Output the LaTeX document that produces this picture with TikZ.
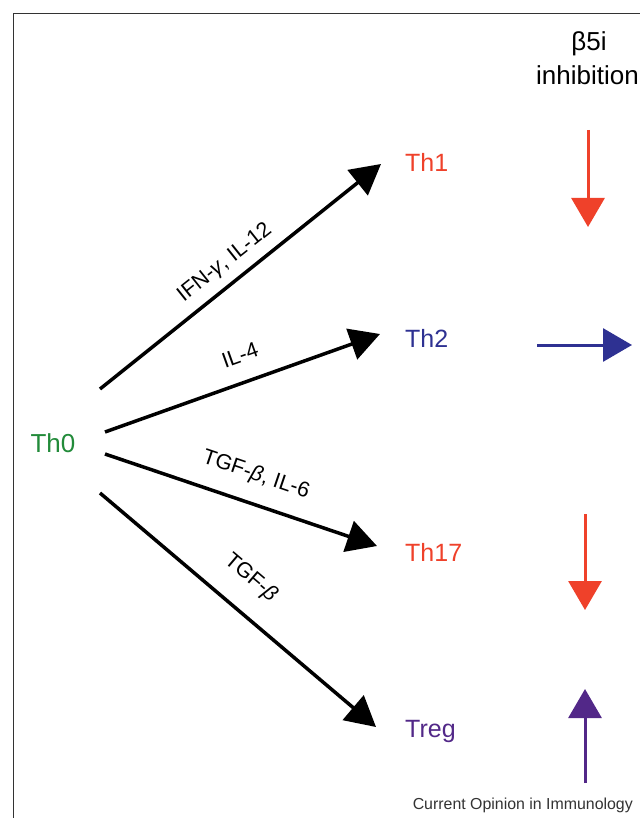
\documentclass[tikz,border=0pt]{standalone}
\usepackage{fontspec}
\setmainfont{Liberation Sans}
\usetikzlibrary{arrows.meta}
\definecolor{thred}{RGB}{239,65,42}
\definecolor{thblue}{RGB}{46,49,146}
\definecolor{thpurple}{RGB}{82,40,136}
\definecolor{thgreen}{RGB}{34,139,58}
\begin{document}
\begin{tikzpicture}[x=1pt,y=-1pt,
  cellname/.style={font=\fontsize{25}{28}\selectfont, anchor=west, inner sep=0pt},
  cyto/.style={font=\fontsize{21.5}{24}\selectfont, inner sep=0pt},
  diffarrow/.style={line width=3.5pt, -{Triangle[length=30pt,width=32pt]}},
  effarrow/.style={line width=3pt, -{Triangle[length=29pt,width=33pt]}}]
\useasboundingbox (0,0) rectangle (640,818);
\fill[white] (0,0) rectangle (640,818);
% frame (only top and left visible)
\draw[line width=1.3pt, black!80] (13.5,818) -- (13.5,13.5) -- (640,13.5);

% cell nodes
\node[font=\fontsize{26}{28}\selectfont, text=thgreen, inner sep=0pt] (th0) at (53,443) {Th0};
\node[cellname, text=thred] (th1) at (405,162) {Th1};
\node[cellname, text=thblue] (th2) at (405,338) {Th2};
\node[cellname, text=thred] (th17) at (405,552) {Th17};
\node[cellname, text=thpurple] (treg) at (405,731) {Treg};

% arrow end points
\coordinate (s1) at (100,389);  \coordinate (e1) at (381,164);
\coordinate (s2) at (105,432);  \coordinate (e2) at (380,334);
\coordinate (s3) at (105,454);  \coordinate (e3) at (377,546);
\coordinate (s4) at (100,493);  \coordinate (e4) at (376,727);

\draw[diffarrow] (s1) -- (e1);
\draw[diffarrow] (s2) -- (e2);
\draw[diffarrow] (s3) -- (e3);
\draw[diffarrow] (s4) -- (e4);

% cytokine labels
\node[cyto, rotate=38.5] (l1) at (225,263) {IFN-{\itshape γ}, IL-12};
\node[cyto, rotate=19.6] (l2) at (240,355) {IL-4};
\node[cyto, rotate=-18.7] (l3) at (256,475) {TGF-{\itshape β}, IL-6};
\node[cyto, rotate=-40.4] (l4) at (251,578) {TGF-{\itshape β}};

% header
\node[font=\fontsize{26}{28}\selectfont, inner sep=0pt] (hdr1) at (589,44) {β5i};
\node[font=\fontsize{26}{28}\selectfont, inner sep=0pt, anchor=west] (hdr2) at (536,75) {inhibition};

% effect arrows
\coordinate (a1s) at (588,130); \coordinate (a1e) at (588,227);
\coordinate (a2s) at (537,345); \coordinate (a2e) at (632,345);
\coordinate (a3s) at (585,514); \coordinate (a3e) at (585,610);
\coordinate (a4s) at (585,783); \coordinate (a4e) at (585,689);
\draw[effarrow, thred] (a1s) -- (a1e);
\draw[effarrow, thblue] (a2s) -- (a2e);
\draw[effarrow, thred] (a3s) -- (a3e);
\draw[effarrow, thpurple] (a4s) -- (a4e);

% credit
\node[font=\fontsize{15.9}{17}\selectfont, text=black!80, inner sep=0pt, anchor=east] (credit) at (633,805) {Current Opinion in Immunology};
\end{tikzpicture}
\end{document}
